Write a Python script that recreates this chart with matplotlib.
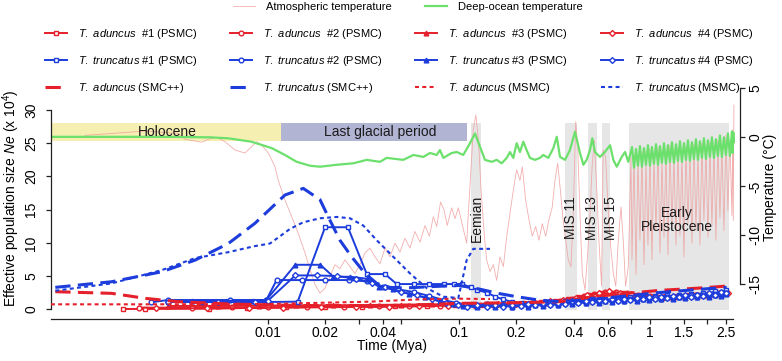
import matplotlib
matplotlib.use("Agg")
import matplotlib.pyplot as plt
from matplotlib.ticker import NullLocator

plt.rcParams['font.family'] = ['Liberation Sans', 'DejaVu Sans']
plt.rcParams['mathtext.fontset'] = 'custom'
plt.rcParams['mathtext.rm'] = 'Liberation Sans'
plt.rcParams['mathtext.it'] = 'Liberation Sans:italic'
plt.rcParams['mathtext.bf'] = 'Liberation Sans:bold'
plt.rcParams['mathtext.sf'] = 'Liberation Sans'

# ------------------------------------------------------------------ data
# x: time (million years ago), Ne in units of 10^4, temperature in deg C

# T. aduncus PSMC (red)
TA1_T = [0.00174, 0.00227, 0.0049, 0.0078, 0.0125, 0.020, 0.031, 0.046, 0.068, 0.095, 0.13, 0.17, 0.22, 0.27, 0.32,
         0.37, 0.42, 0.48, 0.55, 0.63, 0.72, 0.82, 0.94, 1.07, 1.22, 1.40, 1.60, 1.83, 2.10, 2.40]
TA1_N = [0.05, 0.05, 0.1, 0.2, 0.3, 0.35, 0.4, 0.45, 0.5, 0.6, 0.7, 0.8, 0.95, 1.1, 1.3,
         1.5, 1.9, 2.2, 2.4, 2.5, 2.4, 2.2, 2.0, 1.9, 1.9, 2.0, 2.1, 2.2, 2.3, 2.4]
TA2_T = [0.0021, 0.0040, 0.0065, 0.010, 0.016, 0.025, 0.038, 0.055, 0.080, 0.11, 0.15, 0.19, 0.24, 0.29, 0.34,
         0.39, 0.45, 0.51, 0.58, 0.66, 0.76, 0.87, 1.00, 1.15, 1.32, 1.50, 1.72, 1.97, 2.25, 2.50]
TA2_N = [0.25, 0.25, 0.3, 0.3, 0.35, 0.4, 0.45, 0.5, 0.55, 0.6, 0.7, 0.8, 0.9, 1.0, 1.2,
         1.6, 2.0, 2.3, 2.6, 2.6, 2.4, 2.2, 2.0, 1.9, 1.9, 2.0, 2.1, 2.2, 2.3, 2.4]
TA3_T = [0.0030, 0.0055, 0.0090, 0.014, 0.022, 0.034, 0.050, 0.072, 0.10, 0.14, 0.18, 0.23, 0.28, 0.33, 0.38,
         0.44, 0.50, 0.57, 0.65, 0.74, 0.84, 0.96, 1.10, 1.26, 1.44, 1.65, 1.89, 2.16, 2.45]
TA3_N = [0.5, 0.5, 0.55, 0.6, 0.6, 0.65, 0.7, 0.75, 0.8, 0.85, 0.9, 1.0, 1.1, 1.3, 1.6,
         1.9, 2.2, 2.4, 2.3, 2.2, 2.0, 1.9, 1.8, 1.9, 2.0, 2.1, 2.2, 2.3, 2.5]
TA4_T = [0.0026, 0.0048, 0.0080, 0.012, 0.019, 0.029, 0.043, 0.062, 0.088, 0.12, 0.16, 0.20, 0.25, 0.30, 0.35,
         0.41, 0.47, 0.54, 0.61, 0.70, 0.80, 0.91, 1.04, 1.19, 1.36, 1.55, 1.77, 2.02, 2.30, 2.55]
TA4_N = [0.15, 0.15, 0.2, 0.25, 0.3, 0.35, 0.4, 0.45, 0.55, 0.65, 0.75, 0.85, 1.0, 1.2, 1.4,
         1.7, 2.1, 2.5, 2.7, 2.5, 2.3, 2.1, 1.9, 1.8, 1.9, 2.0, 2.1, 2.3, 2.4, 2.5]

# T. truncatus PSMC (blue): recent part + older part
TT1_T = [0.0030, 0.0045, 0.0070, 0.0100, 0.0143, 0.0199, 0.0262, 0.0329, 0.0410, 0.0472, 0.058, 0.070, 0.083,
         0.094, 0.104, 0.115]
TT1_N = [1.1, 1.1, 1.1, 1.1, 1.15, 12.35, 12.35, 5.3, 5.3, 3.8, 3.8, 3.8, 3.8, 3.8, 3.8, 3.3]
TT2_T = [0.00244, 0.0030, 0.0063, 0.0098, 0.0111, 0.0150, 0.0200, 0.0265, 0.0330, 0.0400, 0.0480, 0.0580,
         0.0700, 0.0830, 0.0960, 0.108]
TT2_N = [1.05, 1.4, 1.4, 1.4, 4.4, 4.4, 4.4, 4.4, 4.2, 3.4, 3.0, 2.6, 2.0, 1.4, 1.0, 0.7]
TT3_T = [0.0040, 0.0060, 0.0083, 0.0098, 0.0139, 0.0188, 0.0220, 0.0270, 0.0330, 0.0380, 0.0450, 0.0550,
         0.0660, 0.0800, 0.0930, 0.105]
TT3_N = [1.3, 1.3, 1.3, 1.4, 6.7, 6.7, 4.9, 4.9, 4.6, 3.4, 3.0, 2.3, 1.8, 1.2, 0.8, 0.5]
TT4_T = [0.0030, 0.0055, 0.0085, 0.0100, 0.0139, 0.0180, 0.0230, 0.0290, 0.0350, 0.0410, 0.0500, 0.0600,
         0.0720, 0.0860, 0.0990, 0.110]
TT4_N = [1.1, 1.1, 1.1, 1.3, 5.1, 5.1, 5.0, 4.6, 4.0, 3.3, 2.6, 2.1, 1.5, 1.0, 0.6, 0.4]

TT_OLD_T = [0.125, 0.14, 0.155, 0.17, 0.19, 0.21, 0.23, 0.25, 0.275, 0.30, 0.33, 0.36, 0.39, 0.42, 0.46, 0.50,
            0.54, 0.58, 0.63, 0.68, 0.73, 0.79, 0.85, 0.92, 0.99, 1.06, 1.14, 1.23, 1.32, 1.42, 1.53, 1.64,
            1.76, 1.89, 2.03, 2.18, 2.34, 2.50]
TT1_OLD = [2.9, 2.5, 1.9, 1.5, 1.1, 0.9, 0.7, 0.9, 0.7, 1.0, 0.8, 1.2, 1.0, 1.4, 1.2, 1.5, 1.3, 1.6, 1.4, 1.7,
           1.5, 1.8, 1.6, 1.9, 1.7, 2.0, 1.8, 2.1, 1.9, 2.2, 2.0, 2.3, 2.1, 2.5, 2.3, 2.7, 2.5, 2.9]
TT2_OLD = [0.5, 0.8, 0.5, 0.7, 0.4, 0.7, 0.5, 0.8, 0.6, 0.9, 0.7, 1.1, 0.9, 1.2, 1.0, 1.3, 1.1, 1.4, 1.2, 1.5,
           1.3, 1.6, 1.4, 1.7, 1.5, 1.8, 1.6, 1.9, 1.7, 2.0, 1.8, 2.1, 1.9, 2.2, 2.0, 2.3, 2.1, 2.4]
TT3_OLD = [0.3, 0.6, 0.3, 0.6, 0.3, 0.6, 0.4, 0.7, 0.5, 0.8, 0.6, 0.9, 0.8, 1.1, 0.9, 1.2, 1.0, 1.3, 1.1, 1.4,
           1.2, 1.5, 1.3, 1.6, 1.4, 1.7, 1.5, 1.8, 1.6, 1.9, 1.7, 2.0, 1.8, 2.1, 1.9, 2.2, 2.0, 2.3]
TT4_OLD = [0.6, 0.4, 0.7, 0.4, 0.7, 0.5, 0.8, 0.6, 0.9, 0.7, 1.0, 0.8, 1.2, 1.0, 1.3, 1.1, 1.4, 1.2, 1.5, 1.3,
           1.6, 1.4, 1.7, 1.5, 1.8, 1.6, 1.9, 1.7, 2.0, 1.8, 2.1, 1.9, 2.2, 2.0, 2.4, 2.2, 2.6, 2.4]

# SMC++
SMC_TT_T = [0.00077, 0.00152, 0.00278, 0.00415, 0.0062, 0.00855, 0.01227, 0.0153, 0.01872, 0.02069, 0.0238,
            0.02742, 0.0322, 0.0371, 0.0435, 0.052, 0.07, 0.10, 0.13, 0.16, 0.20, 0.26, 0.34, 0.50, 0.75,
            1.10, 1.80, 2.52]
SMC_TT_N = [3.3, 4.15, 5.65, 7.4, 9.9, 12.95, 17.2, 18.2, 16.5, 13.9, 10.4, 7.9, 5.4, 3.9, 3.3, 3.2, 3.4, 3.6,
            3.0, 2.4, 1.9, 1.4, 1.15, 1.5, 2.0, 2.5, 3.0, 3.3]
SMC_TA_T = [0.00077, 0.00152, 0.00227, 0.00339, 0.0063, 0.0147, 0.049, 0.101, 0.2086, 0.338, 0.505, 0.755,
            1.128, 1.827, 2.522]
SMC_TA_N = [2.65, 2.4, 1.65, 1.15, 0.8, 0.57, 0.57, 0.9, 1.0, 1.15, 1.9, 2.4, 2.85, 3.2, 3.5]

# MSMC
MSMC_TT_T = [0.00077, 0.00152, 0.00278, 0.00415, 0.0062, 0.0085, 0.01024, 0.01156, 0.01304, 0.0153, 0.01872,
             0.0229, 0.02687, 0.03155, 0.03708, 0.0453, 0.0554, 0.0677, 0.0828, 0.0992, 0.1097, 0.1188, 0.1453]
MSMC_TT_N = [2.8, 3.9, 5.9, 7.7, 8.6, 9.5, 9.9, 11.0, 12.1, 13.1, 13.7, 13.9, 13.7, 12.6, 10.4, 7.9, 5.4, 3.2,
             1.9, 1.7, 7.4, 9.1, 9.1]
MSMC_TA_T = [0.00073, 0.0024, 0.01024, 0.0342, 0.0625, 0.0973, 0.1453]
MSMC_TA_N = [0.75, 0.75, 0.8, 1.15, 1.5, 1.6, 1.55]

# Atmospheric temperature (pink)
ATM_T = [0.0011, 0.00227, 0.00339, 0.00368, 0.0045, 0.00487, 0.00539, 0.00596, 0.00672, 0.00758,
         0.0082, 0.00873, 0.00927, 0.01004, 0.01088, 0.01132, 0.01227, 0.01331, 0.0144, 0.01562,
         0.0166, 0.01762, 0.01872, 0.01988, 0.02112, 0.02243, 0.0238, 0.02531, 0.02687, 0.02853,
         0.0303, 0.0322, 0.0342, 0.03633, 0.03858, 0.041, 0.04352, 0.0462, 0.0491, 0.0521,
         0.0554, 0.0588, 0.0625, 0.0664, 0.0700, 0.0734, 0.0764, 0.0801, 0.0835, 0.0868,
         0.0916, 0.0953, 0.0992, 0.1046, 0.1097, 0.1119, 0.1188, 0.1225, 0.1265, 0.1305,
         0.1358, 0.1396, 0.1453, 0.1513, 0.1575, 0.164, 0.1707, 0.1778, 0.1849, 0.1925,
         0.2005, 0.2086, 0.2146, 0.2233, 0.2325, 0.242, 0.252, 0.2623, 0.273, 0.2843,
         0.2958, 0.3079, 0.318, 0.3287, 0.3395, 0.3506, 0.3622, 0.3735, 0.3857, 0.3964,
         0.4084, 0.4183, 0.430, 0.4422, 0.457, 0.4721, 0.485, 0.4988, 0.511, 0.5255,
         0.5403, 0.558, 0.5685, 0.5852, 0.6034, 0.623, 0.643, 0.662, 0.6826, 0.705,
         0.7245, 0.745, 0.770, 0.795]
ATM_V = [0.2, 0.64, 0.4, -0.2, -0.5, -0.2, 0.0, -0.45, -1.3, -1.6,
         -0.96, -0.45, -0.79, -1.6, -3.0, -4.4, -6.4, -8.1, -9.8, -11.8,
         -13.5, -15.0, -15.9, -15.4, -14.2, -13.0, -13.4, -12.5, -13.2, -13.9,
         -13.0, -11.8, -11.3, -12.2, -12.9, -11.3, -12.2, -10.8, -11.7, -10.3,
         -11.3, -9.6, -10.7, -9.0, -10.1, -8.1, -9.1, -6.6, -7.4, -9.0,
         -7.2, -8.3, -7.2, -9.1, -10.8, -7.8, 0.74, 2.3, -0.3, -5.4,
         -10.1, -12.5, -13.7, -13.0, -14.6, -12.2, -13.2, -10.1, -7.8, -5.4,
         -3.3, -4.4, -3.0, -6.4, -8.4, -10.1, -9.1, -10.5, -8.8, -10.1,
         -8.4, -7.1, -4.4, -2.65, -5.4, -8.4, -10.5, -12.5, -13.2, -7.8,
         1.6, -1.0, -7.8, -13.9, -15.6, -11.8, -7.8, -2.65, -0.3, -5.0,
         -10.5, -15.2, -1.3, -2.0, -7.1, -11.2, -13.9, -15.2, -10.5, -7.1,
         -10.5, -15.2, -13.2, -2.0]

# Early Pleistocene sampling (shared by both temperature records)
EP_T = [0.805, 0.825, 0.845, 0.865, 0.886, 0.908, 0.930, 0.953, 0.976, 1.000,
        1.024, 1.049, 1.075, 1.101, 1.128, 1.155, 1.184, 1.212, 1.242, 1.272,
        1.303, 1.335, 1.368, 1.401, 1.435, 1.470, 1.506, 1.543, 1.580, 1.619,
        1.658, 1.699, 1.740, 1.783, 1.826, 1.871, 1.916, 1.963, 2.011, 2.060,
        2.110, 2.162, 2.214, 2.268, 2.324, 2.380, 2.438, 2.498, 2.559, 2.621,
        2.685, 2.71, 2.73, 2.75]
ATM_EP = [-12.5, -1.8, -14.0, -2.2, -10.5, -1.5, -13.0, -2.5, -11.0, -1.2,
          -12.5, -2.0, -9.5, -1.0, -11.8, -2.3, -10.2, -1.4, -12.0, -0.8,
          -9.0, -2.0, -11.0, -1.1, -10.0, -1.8, -12.2, -0.9, -8.8, -1.5,
          -10.8, -0.7, -9.5, -1.6, -11.0, -0.6, -8.5, -1.2, -10.2, -0.5,
          -9.0, -1.0, -10.5, -0.3, -8.2, -0.8, -9.5, 0.2, -7.5, -0.4,
          -8.0, 0.8, -8.5, 3.3]

# Deep-ocean temperature (green)
OCN_T = [0.00073, 0.0015, 0.0030, 0.0050, 0.0062, 0.0082, 0.01046, 0.01227, 0.01413, 0.0166,
         0.01872, 0.0229, 0.02797, 0.03287, 0.03858, 0.0418, 0.0511, 0.0577, 0.065, 0.0705,
         0.0764, 0.0795, 0.0828, 0.0916, 0.0973, 0.1053, 0.1142, 0.1213, 0.1288, 0.1368,
         0.1484, 0.1575, 0.1674, 0.1778, 0.1849, 0.1925, 0.2005, 0.2086, 0.2172, 0.226,
         0.2353, 0.25, 0.2655, 0.276, 0.2935, 0.312, 0.325, 0.338, 0.359, 0.381,
         0.405, 0.43, 0.448, 0.466, 0.485, 0.499, 0.515, 0.547, 0.581, 0.618,
         0.643, 0.67, 0.711, 0.74, 0.77]
OCN_V = [0.05, 0.05, 0.05, 0.0, -0.1, -0.45, -1.1, -1.8, -2.5, -2.9,
         -3.0, -2.8, -2.65, -2.3, -2.5, -2.1, -2.3, -1.8, -2.0, -1.6,
         -1.8, -1.3, -2.1, -1.6, -1.5, -1.8, -0.6, 0.4, -0.96, -2.3,
         -2.5, -2.3, -2.65, -2.1, -1.5, -2.1, -0.6, -1.5, -0.45, -1.3,
         -2.1, -2.3, -2.1, -1.8, -2.1, -1.1, 0.06, -2.0, -2.3, -1.3,
         0.57, -1.6, -2.8, -2.3, -1.3, -0.1, -1.5, -2.0, -1.5, -0.8,
         -2.3, -3.0, -2.0, -1.5, -2.5]
OCN_EP = [-1.0, -3.1, -1.2, -2.9, -0.9, -3.0, -1.1, -2.8, -0.8, -2.9,
          -1.0, -2.7, -0.7, -2.8, -0.9, -2.6, -0.6, -2.7, -0.8, -2.5,
          -0.5, -2.6, -0.7, -2.4, -0.4, -2.5, -0.6, -2.3, -0.3, -2.4,
          -0.5, -2.2, -0.2, -2.3, -0.4, -2.1, -0.1, -2.2, -0.3, -2.0,
          0.0, -2.1, -0.2, -1.9, 0.2, -2.0, 0.0, -1.8, 0.4, -1.9,
          0.6, -1.6, 0.5, -0.5]

# Periods (start, end in Mya)
HOLOCENE = (None, 0.0117)
LAST_GLACIAL = (0.0117, 0.11)
GREY_PERIODS = [(0.115, 0.13), (0.36, 0.415), (0.475, 0.525), (0.56, 0.62), (0.78, 2.58)]
PERIOD_LABELS = ["Eemian", "MIS 11", "MIS 13", "MIS 15", "Early\nPleistocene"]
PERIOD_LABEL_X = [0.1242, 0.384, 0.499, 0.623, 1.384]

XTICKS = [0.01, 0.02, 0.03, 0.04, 0.05, 0.1, 0.2, 0.4, 0.6, 0.8, 1, 1.5, 2, 2.5]
XTICK_LABELS = ["0.01", "0.02", "", "0.04", "", "0.1", "0.2", "0.4", "0.6", "", "1", "1.5", "", "2.5"]
NE_TICKS = [0, 5, 10, 15, 20, 25, 30]
TEMP_TICKS = [-15, -10, -5, 0, 5]

# ------------------------------------------------------------------ figure
RED = '#E5202B'
BLUE = '#1C3CDB'
PINK = '#F0A0A0'
GREEN = '#6CE06C'

W, H = 782, 361
fig = plt.figure(figsize=(W / 100, H / 100), dpi=100)
AX_L, AX_R, AX_B, AX_T = 51, 740, 319, 85
ax_t = fig.add_axes([AX_L / W, 1 - AX_B / H, (AX_R - AX_L) / W, (AX_B - AX_T) / H])
ax_t.set_xscale('log')
XLIM = (0.000731, 2.96)
ax_t.set_xlim(XLIM)
ax_t.set_ylim(-18.54, 5.34)
ax_n = ax_t.twinx()
NE_LIM = (-1.46, 33.76)
ax_n.set_ylim(NE_LIM)
ax_t.yaxis.tick_right()
ax_t.yaxis.set_label_position('right')
ax_n.yaxis.tick_left()
ax_n.yaxis.set_label_position('left')


def ne_frac(v):
    return (v - NE_LIM[0]) / (NE_LIM[1] - NE_LIM[0])


# background periods
ax_t.axvspan(XLIM[0], HOLOCENE[1], ymin=ne_frac(25.4), ymax=ne_frac(28.0), color='#F5EFB2', lw=0, zorder=0)
ax_t.axvspan(LAST_GLACIAL[0], LAST_GLACIAL[1], ymin=ne_frac(25.4), ymax=ne_frac(28.0), color='#B2B4D4', lw=0,
             zorder=0)
for x0, x1 in GREY_PERIODS:
    ax_t.axvspan(x0, x1, ymin=ne_frac(-0.1), ymax=ne_frac(28.05), color='#E6E6E6', lw=0, zorder=0)

# temperature records
atm_line, = ax_t.plot(ATM_T + EP_T, ATM_V + ATM_EP, color=PINK, lw=0.6, alpha=0.85, zorder=1,
                      label='Atmospheric temperature')
ocn_line, = ax_t.plot(OCN_T + EP_T, OCN_V + OCN_EP, color=GREEN, lw=1.6, zorder=2, label='Deep-ocean temperature')

# population size histories
MARKERS = ['s', 'o', '^', 'D']
ta_series = [(TA1_T, TA1_N), (TA2_T, TA2_N), (TA3_T, TA3_N), (TA4_T, TA4_N)]
tt_series = [(TT1_T + TT_OLD_T, TT1_N + TT1_OLD), (TT2_T + TT_OLD_T, TT2_N + TT2_OLD),
             (TT3_T + TT_OLD_T, TT3_N + TT3_OLD), (TT4_T + TT_OLD_T, TT4_N + TT4_OLD)]

ta_lines, tt_lines = [], []
for i, (t, n) in enumerate(ta_series):
    mk = MARKERS[i]
    fc = RED if mk == '^' else 'white'
    ln, = ax_n.plot(t, n, color=RED, lw=1.4, marker=mk, ms=3.4 if mk != 'D' else 3.0, mfc=fc, mec=RED, mew=1.0,
                    zorder=3)
    ta_lines.append(ln)
for i, (t, n) in enumerate(tt_series):
    mk = MARKERS[i]
    fc = BLUE if mk == '^' else 'white'
    ln, = ax_n.plot(t, n, color=BLUE, lw=1.4, marker=mk, ms=3.4 if mk != 'D' else 3.0, mfc=fc, mec=BLUE, mew=1.0,
                    zorder=4)
    tt_lines.append(ln)

smc_ta, = ax_n.plot(SMC_TA_T, SMC_TA_N, color=RED, lw=2.2, ls=(0, (5, 2.4)), zorder=5)
smc_tt, = ax_n.plot(SMC_TT_T, SMC_TT_N, color=BLUE, lw=2.2, ls=(0, (5, 2.4)), zorder=5)
msmc_ta, = ax_n.plot(MSMC_TA_T, MSMC_TA_N, color=RED, lw=1.5, ls=(0, (1.9, 1.6)), zorder=5)
msmc_tt, = ax_n.plot(MSMC_TT_T, MSMC_TT_N, color=BLUE, lw=1.5, ls=(0, (1.9, 1.6)), zorder=5)

# period labels
ax_n.text(0.00297, 26.65, "Holocene", fontsize=10, ha='center', va='center', color='#1a1a1a', zorder=6)
ax_n.text(0.0386, 26.65, "Last glacial period", fontsize=10, ha='center', va='center', color='#1a1a1a', zorder=6)
for lab, x in zip(PERIOD_LABELS, PERIOD_LABEL_X):
    if '\n' in lab:
        ax_n.text(x, 13.45, lab, fontsize=10, ha='center', va='center', color='#1a1a1a', zorder=6,
                  linespacing=0.95)
    else:
        ax_n.text(x, 13.75, lab, fontsize=10, ha='center', va='center', rotation=90, color='#1a1a1a', zorder=6)

# axes styling
for sp in ['top', 'left']:
    ax_t.spines[sp].set_visible(False)
for sp in ['top', 'right', 'bottom']:
    ax_n.spines[sp].set_visible(False)
ax_t.spines['right'].set_bounds(-15, 5)
ax_t.spines['bottom'].set_bounds(XLIM[0], 2.72)
ax_n.spines['left'].set_bounds(0, 30)
for a, sp in [(ax_t, 'right'), (ax_t, 'bottom'), (ax_n, 'left')]:
    a.spines[sp].set_linewidth(0.9)
    a.spines[sp].set_color('#222222')

ax_t.set_xticks(XTICKS, XTICK_LABELS)
ax_t.xaxis.set_minor_locator(NullLocator())
ax_t.tick_params(axis='x', labelsize=10, length=3.8, width=0.9, pad=1.5, color='#222222')
ax_t.set_yticks(TEMP_TICKS, [str(v) for v in TEMP_TICKS], rotation=90, va='center')
ax_t.tick_params(axis='y', labelsize=10, length=3.8, width=0.9, pad=2.5, color='#222222')
ax_n.set_yticks(NE_TICKS, [str(v) for v in NE_TICKS], rotation=90, va='center')
ax_n.tick_params(axis='y', labelsize=10, length=3.8, width=0.9, pad=5.5, color='#222222')

ax_t.set_xlabel("Time (Mya)", fontsize=10)
ax_t.xaxis.set_label_coords((391.6 - AX_L) / (AX_R - AX_L), (AX_B - 339) / (AX_B - AX_T))
ax_n.set_ylabel(r"Effective population size $\it{Ne}$ (x 10$^{4}$)", fontsize=10)
ax_n.yaxis.set_label_coords((22 - AX_L) / (AX_R - AX_L), (AX_B - 198) / (AX_B - AX_T))
ax_t.set_ylabel("Temperature (°C)", fontsize=10)
ax_t.yaxis.set_label_coords((763 - AX_L) / (AX_R - AX_L), (AX_B - 187) / (AX_B - AX_T))

# legend (one legend per column)
TA_LABELS = [r"$\it{T.\ aduncus}$  #%d (PSMC)" % k for k in range(1, 5)]
TT_LABELS = [r"$\it{T.\ truncatus}$ #%d (PSMC)" % k for k in range(1, 5)]
LAST_ROW = [(smc_ta, r"$\it{T.\ aduncus}$ (SMC++)"), (smc_tt, r"$\it{T.\ truncatus}$ (SMC++)"),
            (msmc_ta, r"$\it{T.\ aduncus}$ (MSMC)"), (msmc_tt, r"$\it{T.\ truncatus}$ (MSMC)")]
COL_X = [45, 230, 415, 601]
LEG_KW = dict(loc='upper left', frameon=False, fontsize=8, handlelength=2.0, handletextpad=1.0, borderpad=0.0,
              borderaxespad=0.0, labelspacing=1.15, numpoints=1, bbox_transform=fig.transFigure)
for c in range(4):
    hs = [ta_lines[c], tt_lines[c], LAST_ROW[c][0]]
    ls = [TA_LABELS[c], TT_LABELS[c], LAST_ROW[c][1]]
    fig.legend(hs, ls, bbox_to_anchor=(COL_X[c] / W, 1 - 27 / H), **LEG_KW)
fig.legend([atm_line], ['Atmospheric temperature'], bbox_to_anchor=(233 / W, 1 - 2 / H), **LEG_KW)
fig.legend([ocn_line], ['Deep-ocean temperature'], bbox_to_anchor=(425 / W, 1 - 2 / H), **LEG_KW)

fig.savefig("out.png", dpi=100)
